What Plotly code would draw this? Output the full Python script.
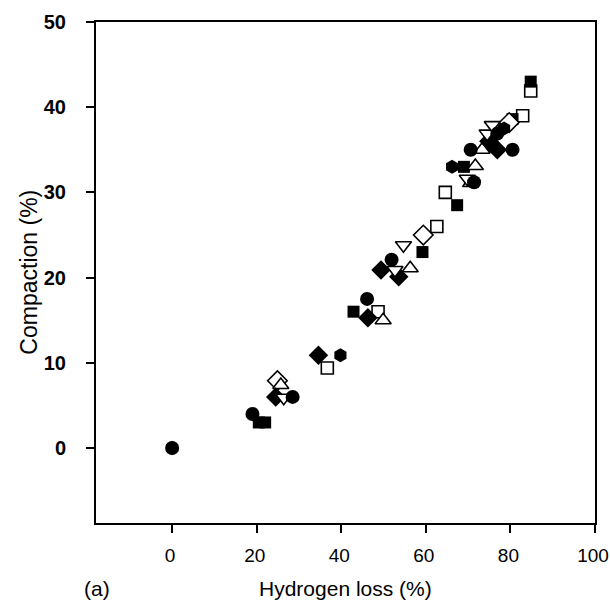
import plotly.graph_objects as go

# Filled series
fc_x = [0, 19, 28.5, 46.1, 51.9, 70.6, 71.4, 76.9, 80.5]
fc_y = [0, 4.0, 6.0, 17.5, 22.1, 35.0, 31.2, 36.9, 35.0]
fs_x = [20.5, 22, 42.9, 59.2, 67.4, 69.0, 75.7, 80.5, 84.8]
fs_y = [3.0, 3.0, 16.0, 23.0, 28.5, 33.0, 35.7, 38.6, 43.0]
fd_x = [24.5, 34.6, 46.3, 49.4, 53.6, 74.9, 76.9]
fd_y = [6.0, 10.9, 15.3, 20.9, 20.1, 36.0, 35.0]
fh_x = [0, 39.8, 66.2, 78.5]
fh_y = [0, 10.9, 33.0, 37.5]
# Open series
os_x = [36.7, 48.7, 62.6, 64.6, 82.9, 84.8]
os_y = [9.4, 16.0, 26.0, 30.0, 39.0, 41.9]
od_x = [24.9, 59.4, 79.7]
od_y = [7.9, 25.0, 38.2]
otu_x = [25.7, 49.9, 56.3, 71.7, 70.6, 73.3]
otu_y = [7.4, 15.0, 21.1, 33.1, 31.1, 35.0]
otd_x = [26.4, 52.7, 54.7, 69.8, 74.5, 75.7]
otd_y = [5.9, 20.9, 23.8, 31.6, 36.9, 37.9]

x_ticks = [0, 20, 40, 60, 80, 100]
y_ticks = [0, 10, 20, 30, 40, 50]

fig = go.Figure()

def add(xs, ys, symbol, size, filled):
    fig.add_trace(go.Scatter(
        x=xs, y=ys, mode="markers",
        marker=dict(symbol=symbol, size=size,
                    color="black" if filled else "white",
                    line=dict(color="black", width=0 if filled else 1.6)),
        showlegend=False, cliponaxis=False))

add(os_x, os_y, "square", 12, False)
add(fs_x, fs_y, "square", 12, True)
add(od_x, od_y, "diamond", 15, False)
add(otu_x, otu_y, "triangle-up", 14, False)
add(fd_x, fd_y, "diamond", 15, True)
add(otd_x, otd_y, "triangle-down", 14, False)
add(fc_x, fc_y, "circle", 14, True)
add(fh_x, fh_y, "hexagon", 14, True)

axis_common = dict(showline=True, linecolor="black", linewidth=2, mirror=True,
                   showgrid=False, zeroline=False, ticks="outside",
                   ticklen=8, tickwidth=2, tickcolor="black", automargin=False)

fig.update_xaxes(range=[-18, 100], tickvals=x_ticks,
                 ticktext=[str(v) for v in x_ticks], ticklabelstandoff=6,
                 ticklabeloverflow="allow", ticklabelshift=-2,
                 tickfont=dict(family="Liberation Sans", size=19, color="black"),
                 **axis_common)
fig.update_yaxes(range=[-8.8, 50], tickvals=y_ticks,
                 ticktext=["<b>%d</b>" % v for v in y_ticks], ticklabelstandoff=16,
                 tickfont=dict(family="Liberation Sans", size=20, color="black"),
                 **axis_common)

fig.add_annotation(text="Compaction (%)", xref="paper", yref="paper",
                   x=-0.136, y=0.5, xanchor="center", yanchor="middle",
                   textangle=-90, showarrow=False,
                   font=dict(family="Liberation Sans", size=23, color="black"))
fig.add_annotation(text="Hydrogen loss (%)", xref="paper", yref="paper",
                   x=0.5, y=-0.130, xanchor="center", yanchor="middle",
                   showarrow=False,
                   font=dict(family="Liberation Sans", size=21, color="black"))
fig.add_annotation(text="(a)", xref="paper", yref="paper",
                   x=0.002, y=-0.130, xanchor="center", yanchor="middle",
                   showarrow=False,
                   font=dict(family="Liberation Sans", size=21, color="black"))

fig.update_layout(width=610, height=600,
                  margin=dict(l=96, r=15, t=22, b=77, autoexpand=False),
                  paper_bgcolor="white", plot_bgcolor="white")

fig.write_html("out.html",
               config={"displayModeBar": False},
               post_script="document.body.style.margin='0';"
                           "document.body.style.overflow='hidden';"
                           "document.documentElement.style.overflow='hidden';")
